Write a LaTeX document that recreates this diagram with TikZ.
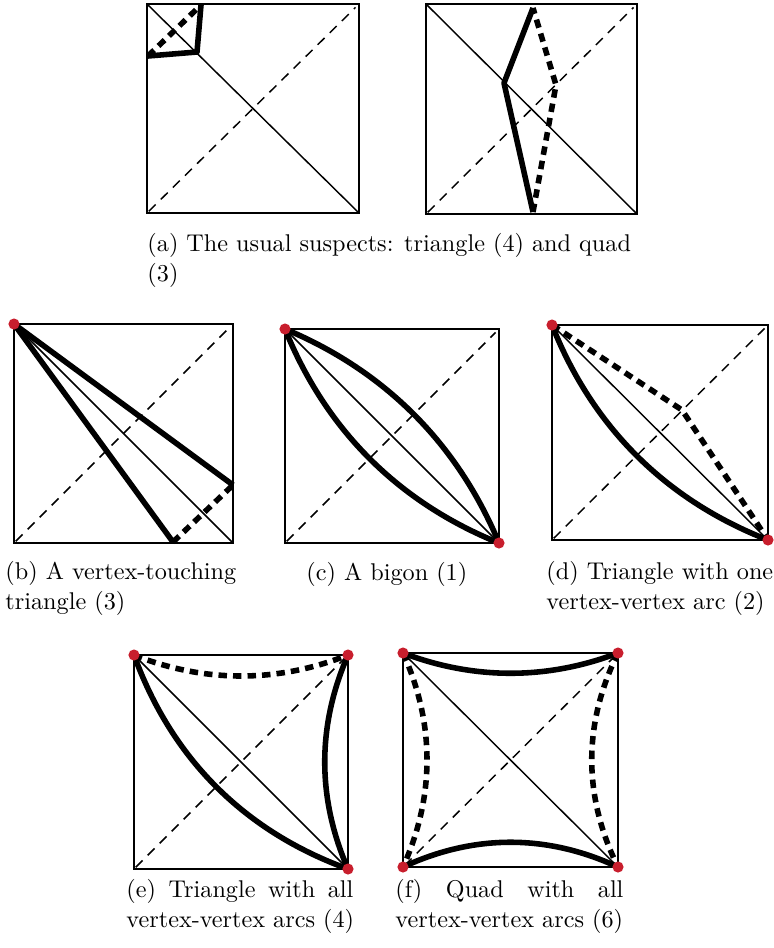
\documentclass[tikz,border=0pt]{standalone}
\usepackage{xcolor}
\usepackage{tikz}
\usetikzlibrary{calc}

\definecolor{vred}{RGB}{200,30,45}
\newdimen\pxu \pxu=0.413pt

\begin{document}
\begin{tikzpicture}[
    x=0.413pt, y=-0.413pt,
    panel/.style={draw, line width=0.6pt},
    diag/.style={line width=0.6pt},
    ddiag/.style={line width=0.6pt, dash pattern=on 4pt off 3pt, shorten <=1pt, shorten >=2pt},
    solidarc/.style={line width=2.3pt, line join=round},
    dasharc/.style={line width=2.3pt, dash pattern=on 3.5pt off 2.5pt},
    vdot/.style={circle, fill=vred, inner sep=0pt, minimum size=4.6pt},
    captxt/.style={anchor=base west, align=left, inner sep=0pt}
]
\useasboundingbox (0,0) rectangle (774,948);

% the seven squares with their two diagonals
\foreach \n/\l/\t/\r/\b in {a1/147/4/359/213, a2/426/4/637/214, b/14/324/233/543,
                            c/285/329/499/543, d/552/325/768/540, e/134/655/348/869,
                            f/403/653/618/867} {
    \coordinate (\n-tl) at (\l,\t);
    \coordinate (\n-tr) at (\r,\t);
    \coordinate (\n-bl) at (\l,\b);
    \coordinate (\n-br) at (\r,\b);
    \draw[panel] (\n-tl) rectangle (\n-br);
    \draw[diag] (\n-tl) -- (\n-br);
    \draw[ddiag] (\n-bl) -- (\n-tr);
}

% (a) triangle and quad
\coordinate (a1-p) at (201,5);
\coordinate (a1-q) at (197,52);
\coordinate (a1-r) at (148,56);
\draw[solidarc] (a1-p) -- (a1-q) -- (a1-r);
\draw[dasharc] (a1-r) -- (a1-p);

\coordinate (a2-p) at (533,8);
\coordinate (a2-q) at (504,83);
\coordinate (a2-r) at (533,212);
\coordinate (a2-s) at (556,85);
\draw[solidarc] (a2-p) -- (a2-q) -- (a2-r);
\draw[dasharc] (a2-r) -- (a2-s) -- (a2-p);

% (b) vertex-touching triangle
\coordinate (b-e) at (233,485);
\coordinate (b-s) at (173,542);
\draw[solidarc] (b-e) -- (b-tl) -- (b-s);
\draw[dasharc] (b-s) -- (b-e);

% (c) bigon
\draw[solidarc] (c-tl) .. controls ($(c-tl)!0.33!(c-br)+(29,-29)$) and ($(c-tl)!0.67!(c-br)+(29,-29)$) .. (c-br);
\draw[solidarc] (c-tl) .. controls ($(c-tl)!0.33!(c-br)+(-30,30)$) and ($(c-tl)!0.67!(c-br)+(-30,30)$) .. (c-br);

% (d) one vertex-vertex arc
\coordinate (d-k) at (682,410);
\draw[solidarc] (d-tl) .. controls ($(d-tl)!0.33!(d-br)+(-31,31)$) and ($(d-tl)!0.67!(d-br)+(-31,31)$) .. (d-br);
\draw[dasharc] (d-tl) -- (d-k) -- (d-br);

% (e) triangle of vertex-vertex arcs
\draw[solidarc] (e-tl) .. controls ($(e-tl)!0.33!(e-br)+(-33,33)$) and ($(e-tl)!0.67!(e-br)+(-33,33)$) .. (e-br);
\draw[solidarc] (e-tr) .. controls ($(e-tr)!0.33!(e-br)+(-31,0)$) and ($(e-tr)!0.67!(e-br)+(-31,0)$) .. (e-br);
\draw[dasharc] (e-tl) .. controls ($(e-tl)!0.33!(e-tr)+(0,28)$) and ($(e-tl)!0.67!(e-tr)+(0,28)$) .. (e-tr);

% (f) quad of vertex-vertex arcs
\draw[solidarc] (f-tl) .. controls ($(f-tl)!0.33!(f-tr)+(0,27)$) and ($(f-tl)!0.67!(f-tr)+(0,27)$) .. (f-tr);
\draw[solidarc] (f-bl) .. controls ($(f-bl)!0.33!(f-br)+(0,-33)$) and ($(f-bl)!0.67!(f-br)+(0,-33)$) .. (f-br);
\draw[dasharc] (f-tl) .. controls ($(f-tl)!0.33!(f-bl)+(32,0)$) and ($(f-tl)!0.67!(f-bl)+(32,0)$) .. (f-bl);
\draw[dasharc] (f-tr) .. controls ($(f-tr)!0.33!(f-br)+(-35,0)$) and ($(f-tr)!0.67!(f-br)+(-35,0)$) .. (f-br);

% vertices
\node[vdot] (b-v1) at (b-tl) {};
\node[vdot] (c-v1) at (c-tl) {};
\node[vdot] (c-v2) at (c-br) {};
\node[vdot] (d-v1) at (d-tl) {};
\node[vdot] (d-v2) at (d-br) {};
\node[vdot] (e-v1) at (e-tl) {};
\node[vdot] (e-v2) at (e-tr) {};
\node[vdot] (e-v3) at (e-br) {};
\node[vdot] (f-v1) at (f-tl) {};
\node[vdot] (f-v2) at (f-tr) {};
\node[vdot] (f-v3) at (f-bl) {};
\node[vdot] (f-v4) at (f-br) {};

% captions (base = baseline of the last line)
\node[captxt] (cap-a) at (147,281) {(a) The usual suspects: triangle (4) and quad\\(3)};
\node[captxt] (cap-b) at (5,609) {(b) A vertex-touching\\triangle (3)};
\node[captxt] (cap-c) at (306,580) {(c) A bigon (1)};
\node[captxt] (cap-d) at (546,609) {(d) Triangle with one\\vertex-vertex arc (2)};
\node[captxt] (cap-e) at (126,927) {\makebox[227\pxu][s]{(e) Triangle with all}\\vertex-vertex arcs (4)};
\node[captxt] (cap-f) at (395,927) {\makebox[228\pxu][s]{(f) Quad with all}\\vertex-vertex arcs (6)};
\end{tikzpicture}
\end{document}
